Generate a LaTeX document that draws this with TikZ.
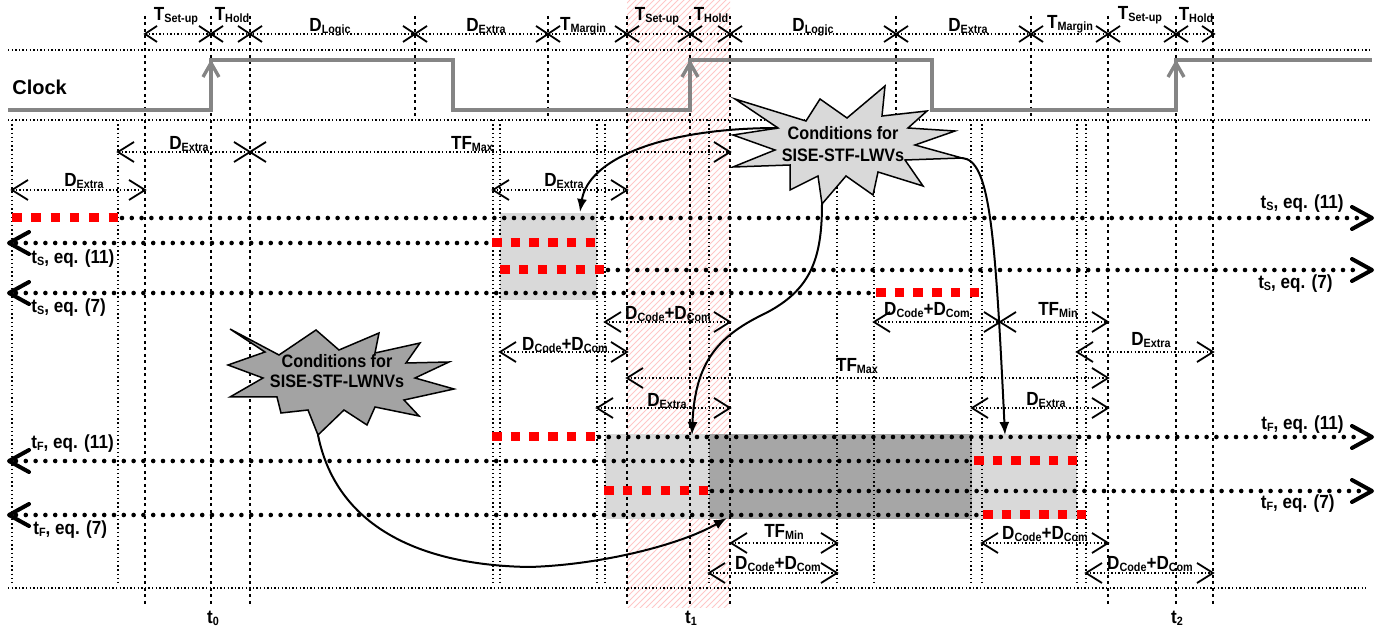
\documentclass[tikz,border=0pt]{standalone}
\usepackage{fontspec}
\setmainfont{Liberation Sans}[FakeStretch=0.9]
\newfontfamily\clkfont{Liberation Sans}
\usetikzlibrary{arrows.meta,patterns}
\definecolor{clkgray}{HTML}{858585}
\definecolor{lgray}{HTML}{D9D9D9}
\definecolor{dgray}{HTML}{A6A6A6}
\definecolor{sgray}{HTML}{A3A3A3}
\newcommand\sub[1]{\raisebox{-0.6pt}{\fontsize{6}{6}\selectfont #1}}
% small chevrons (top row)
\newcommand\sL[2]{\draw[chev] (#1+12,#2-8) -- (#1,#2) -- (#1+12,#2+8);}
\newcommand\sR[2]{\draw[chev] (#1-12,#2-8) -- (#1,#2) -- (#1-12,#2+8);}
\newcommand\sX[2]{\sL{#1}{#2}\sR{#1}{#2}}
% larger chevrons (lower dims)
\newcommand\cL[2]{\draw[chev] (#1+16,#2-10) -- (#1,#2) -- (#1+16,#2+10);}
\newcommand\cR[2]{\draw[chev] (#1-16,#2-10) -- (#1,#2) -- (#1-16,#2+10);}
\newcommand\cX[2]{\cL{#1}{#2}\cR{#1}{#2}}
% dimension line
\newcommand\dm[3]{\draw[hline] (#1,#3) -- (#2,#3);}
% red dashed segment: x1 x2 y
\newcommand\rdash[3]{%
  \pgfmathsetlengthmacro\rgapd{((#2)-(#1)-57)/10*1pt}%
  \draw[line width=4.5pt, draw=red, dash pattern=on 4.75pt off \rgapd] (#1,#3) -- (#2,#3);}
\begin{document}
\begin{tikzpicture}[x=0.5pt,y=-0.5pt,
  lbl/.style={font=\fontsize{9.5}{10}\selectfont\bfseries, inner sep=0pt, anchor=base},
  slbl/.style={font=\fontsize{9}{10}\selectfont\bfseries, inner sep=0pt, anchor=base},
  clklbl/.style={font=\clkfont\fontsize{10}{11}\selectfont\bfseries, inner sep=0pt},
  hline/.style={line width=0.7pt, dash pattern=on 0.7pt off 1.1pt},
  thinv/.style={line width=0.75pt, dash pattern=on 0.75pt off 1.35pt},
  thickv/.style={line width=1.35pt, dash pattern=on 1.35pt off 1.9pt},
  dotrow/.style={line width=2.3pt, line cap=round, dash pattern=on 0pt off 4.9pt},
  chev/.style={line width=0.9pt},
  bigchev/.style={line width=2pt, line cap=round, line join=round},
  clk/.style={line width=1.7pt, draw=clkgray},
  curv/.style={line width=1pt, -{Latex[length=6.5pt,width=5pt]}},
  star/.style={draw=black, line width=0.75pt, line join=miter}
]
\useasboundingbox (0,0) rectangle (1388,630);

% hatched band
\fill[pattern=north east lines, pattern color=red!22] (627,0) rectangle (730,608);

% gray boxes
\fill[lgray] (500,213) rectangle (597,300);
\fill[lgray] (605,434) rectangle (709,519);
\fill[dgray] (709,434) rectangle (972,519);
\fill[lgray] (972,434) rectangle (1077,519);

% horizontal guide lines
\draw[hline] (8,50) -- (1372,50);
\draw[hline] (8,120) -- (1372,120);
\draw[hline] (8,588) -- (1366,588);

% vertical lines
\foreach \x in {145,211,250,627,690,730,1108,1176,1213} \draw[thickv] (\x,16) -- (\x,607);
\foreach \x in {415,548,896,1031} \draw[thickv] (\x,16) -- (\x,118);
\foreach \x in {12,118,493,500,597,605,709,837,874,971,982,1077,1086} \draw[thinv] (\x,120) -- (\x,583);

% clock
\draw[clk] (8,110) -- (211,110) -- (211,60) -- (453,60) -- (453,110) -- (690,110) -- (690,60) -- (932,60) -- (932,110) -- (1176,110) -- (1176,60) -- (1372,60);
\foreach \x in {211,690,1176} \draw[clk] (\x-8,77) -- (\x,63) -- (\x+8,77);
\node[clklbl, anchor=base west] (clock) at (12,95) {Clock};

% top dimension row
\dm{145}{1214}{34}
\sL{145}{34}
\foreach \x in {211,250,415,548,627,690,730,896,1031,1108,1176} {\sX{\x}{34}}
\sR{1214}{34}
\node[lbl] (ta1) at (176,21) {T\sub{Set-up}};
\node[lbl] (ta2) at (232,21) {T\sub{Hold}};
\node[lbl] (ta3) at (330,32) {D\sub{Logic}};
\node[lbl] (ta4) at (486,32) {D\sub{Extra}};
\node[lbl] (ta5) at (583,31) {T\sub{Margin}};
\node[lbl] (ta6) at (657,21) {T\sub{Set-up}};
\node[lbl] (ta7) at (711,21) {T\sub{Hold}};
\node[lbl] (ta8) at (813,32) {D\sub{Logic}};
\node[lbl] (ta9) at (968,32) {D\sub{Extra}};
\node[lbl] (ta10) at (1070,29) {T\sub{Margin}};
\node[lbl] (ta11) at (1140,20) {T\sub{Set-up}};
\node[lbl] (ta12) at (1196,21) {T\sub{Hold}};

% lower dimension rows
\dm{118}{730}{152} \cL{118}{152} \cX{250}{152} \cR{730}{152}
\dm{12}{145}{190} \cL{12}{190} \cR{145}{190}
\dm{493}{627}{190} \cL{493}{190} \cR{627}{190}
\dm{605}{730}{322} \cL{605}{322} \cR{730}{322}
\dm{874}{1108}{322} \cL{874}{322} \cX{1000}{322} \cR{1108}{322}
\dm{500}{627}{352} \cL{500}{352} \cR{627}{352}
\dm{1077}{1213}{352} \cL{1077}{352} \cR{1213}{352}
\dm{627}{1108}{378} \cL{627}{378} \cR{1108}{378}
\dm{597}{730}{408} \cL{597}{408} \cR{730}{408}
\dm{972}{1108}{408} \cL{972}{408} \cR{1108}{408}
\dm{731}{837}{543} \cL{731}{543} \cR{837}{543}
\dm{982}{1108}{543} \cL{982}{543} \cR{1108}{543}
\dm{709}{837}{573} \cL{709}{573} \cR{837}{573}
\dm{1086}{1213}{573} \cL{1086}{573} \cR{1213}{573}

\node[lbl] (la1) at (189,150) {D\sub{Extra}};
\node[lbl] (la2) at (472,150) {TF\sub{Max}};
\node[lbl] (la3) at (84,187) {D\sub{Extra}};
\node[lbl] (la4) at (564,187) {D\sub{Extra}};
\node[lbl] (la5) at (668,320) {D\sub{Code}+D\sub{Com}};
\node[lbl] (la6) at (927,316) {D\sub{Code}+D\sub{Com}};
\node[lbl] (la7) at (1058,316) {TF\sub{Min}};
\node[lbl] (la8) at (565,351) {D\sub{Code}+D\sub{Com}};
\node[lbl] (la9) at (1151,346) {D\sub{Extra}};
\node[lbl] (la10) at (857,372) {TF\sub{Max}};
\node[lbl] (la11) at (667,407) {D\sub{Extra}};
\node[lbl] (la12) at (1046,406) {D\sub{Extra}};
\node[lbl] (la13) at (784,538) {TF\sub{Min}};
\node[lbl] (la14) at (778,570) {D\sub{Code}+D\sub{Com}};
\node[lbl] (la15) at (1045,540) {D\sub{Code}+D\sub{Com}};
\node[lbl] (la16) at (1150,570) {D\sub{Code}+D\sub{Com}};

% signal rows
\draw[dotrow] (122,218) -- (1362,218);
\draw[dotrow] (16,243) -- (490,243);
\draw[dotrow] (608,270) -- (1362,270);
\draw[dotrow] (16,293) -- (872,293);
\draw[dotrow] (599,437) -- (1362,437);
\draw[dotrow] (16,461) -- (970,461);
\draw[dotrow] (712,491) -- (1362,491);
\draw[dotrow] (16,515) -- (979,515);
\rdash{12}{118}{218}
\rdash{492}{595}{243}
\rdash{500}{604}{270}
\rdash{876}{979}{293}
\rdash{492}{595}{437}
\rdash{974}{1077}{461}
\rdash{604}{708}{491}
\rdash{983}{1086}{515}
\foreach \y in {218,270,437,491} \draw[bigchev] (1352,\y-11) -- (1372,\y) -- (1352,\y+11);
\foreach \y in {243,293,461,515} \draw[bigchev] (29,\y-11) -- (9,\y) -- (29,\y+11);

\node[lbl, anchor=base east] (ra1) at (1344,209) {t\sub{S}, eq. (11)};
\node[lbl, anchor=base east] (ra2) at (1333,289) {t\sub{S}, eq. (7)};
\node[lbl, anchor=base east] (ra3) at (1344,430) {t\sub{F}, eq. (11)};
\node[lbl, anchor=base east] (ra4) at (1335,509) {t\sub{F}, eq. (7)};
\node[lbl, anchor=base west] (le1) at (31,264) {t\sub{S}, eq. (11)};
\node[lbl, anchor=base west] (le2) at (31,313) {t\sub{S}, eq. (7)};
\node[lbl, anchor=base west] (le3) at (31,449) {t\sub{F}, eq. (11)};
\node[lbl, anchor=base west] (le4) at (33,535) {t\sub{F}, eq. (7)};

\node[lbl] (t0) at (213,624) {t\sub{0}};
\node[lbl] (t1) at (691,624) {t\sub{1}};
\node[lbl] (t2) at (1177,624) {t\sub{2}};

% starburst 1 (light)
\draw[star, fill=lgray] (735,99) -- (806,121) -- (820,99) -- (847,118) -- (885,86) -- (882,116) -- (927,111) -- (908,128) -- (955,131) -- (915,145) -- (962,158) -- (905,160) -- (923,186) -- (878,172) -- (873,195) -- (846,176) -- (822,204) -- (818,176) -- (790,190) -- (790,165) -- (733,167) -- (775,150) -- (733,135) -- (778,128) -- cycle;
\node[slbl] (s1a) at (843,140) {Conditions for};
\node[slbl] (s1b) at (843,162) {SISE-STF-LWVs};
% starburst 2 (dark)
\draw[star, fill=sgray] (230,329) -- (279,355) -- (316,330) -- (339,350) -- (379,333) -- (375,353) -- (420,343) -- (406,363) -- (449,362) -- (415,378) -- (454,389) -- (404,400) -- (419,416) -- (375,407) -- (367,425) -- (344,410) -- (318,435) -- (308,410) -- (281,413) -- (277,397) -- (230,397) -- (263,378) -- (228,365) -- (265,352) -- cycle;
\node[slbl] (s2a) at (337,368) {Conditions for};
\node[slbl] (s2b) at (337,388) {SISE-STF-LWNVs};

% connector end points
\coordinate (s1l) at (778,128);
\coordinate (s1b) at (822,204);
\coordinate (s1r) at (962,158);
\coordinate (s2b) at (318,435);
\coordinate (e1) at (580,212);
\coordinate (e2) at (692,435);
\coordinate (e3) at (1005,435);
\coordinate (e4) at (727,518);

\draw[curv] (s1l) .. controls (660,128) and (588,160) .. (e1);
\draw[curv] (s1b) .. controls (822,260) and (810,290) .. (766,313) .. controls (720,335) and (695,360) .. (e2);
\draw[curv] (s1r) .. controls (990,160) and (995,230) .. (e3);
\draw[curv] (s2b) .. controls (335,520) and (410,565) .. (529,567) .. controls (600,565) and (680,545) .. (e4);
\end{tikzpicture}
\end{document}
